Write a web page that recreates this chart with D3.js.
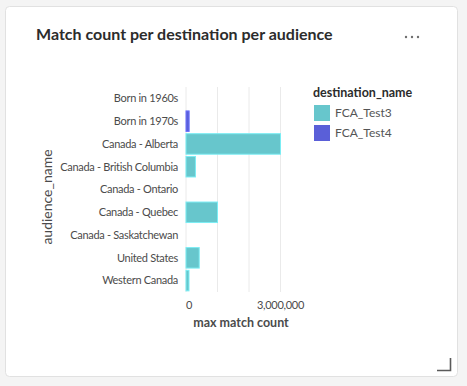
<!DOCTYPE html>
<html>
<head>
<meta charset="utf-8">
<script src="https://cdn.jsdelivr.net/npm/d3@7"></script>
<style>
  body { margin: 0; background: #f4f4f4; font-family: Lato, sans-serif; }
  svg { display: block; }
</style>
</head>
<body>
<svg id="chart" width="467" height="386"></svg>
<script>
// data
const audiences = [
  "Born in 1960s", "Born in 1970s", "Canada - Alberta", "Canada - British Columbia",
  "Canada - Ontario", "Canada - Quebec", "Canada - Saskatchewan", "United States", "Western Canada"
];
const destinations = ["FCA_Test3", "FCA_Test4"];
const destinationOfRow = [null, "FCA_Test4", "FCA_Test3", "FCA_Test3", null, "FCA_Test3", null, "FCA_Test3", "FCA_Test3"];
const matchCounts = [0, 100000, 3000000, 300000, 0, 1000000, 0, 420000, 95000];
const xTicks = [0, 1000000, 2000000, 3000000];
const xTickLabels = ["0", "", "", "3,000,000"];

const svg = d3.select("#chart");

// card
svg.append("rect")
  .attr("x", 5.5).attr("y", 6.5).attr("width", 452).attr("height", 370)
  .attr("rx", 4)
  .style("fill", "#fff")
  .style("stroke", "#e1e1e1");

svg.append("text")
  .attr("x", 36).attr("y", 40)
  .style("font-size", "16px").style("font-weight", "700")
  .style("fill", "#2c2c2c")
  .text("Match count per destination per audience");

// "..." menu
[406, 412, 418].forEach(cx => {
  svg.append("circle").attr("cx", cx).attr("cy", 37).attr("r", 1.2).style("fill", "#6e6e6e");
});

// resize handle
svg.append("path")
  .attr("d", "M437,370.5 H450.5 V358")
  .style("fill", "none").style("stroke", "#5a5a5a").style("stroke-width", 1.6);

const x = d3.scaleLinear().domain([0, 3000000]).range([186, 280.5]);
const y = d3.scaleBand().domain(audiences).range([87, 292]).paddingInner(0.1).paddingOuter(0.05);
const color = d3.scaleOrdinal().domain(destinations).range(["#67c6cc", "#5a5fd8"]);

// gridlines
svg.append("g").selectAll("line")
  .data(xTicks).enter().append("line")
  .attr("x1", d => x(d)).attr("x2", d => x(d))
  .attr("y1", 87).attr("y2", 292)
  .style("stroke", "#eaeaea").style("stroke-width", 1);

// bars
svg.append("g").selectAll("rect")
  .data(audiences.map((a, i) => ({ a, v: matchCounts[i], dest: destinationOfRow[i] })).filter(d => d.v > 0))
  .enter().append("rect")
  .attr("x", x(0))
  .attr("y", d => y(d.a))
  .attr("width", d => x(d.v) - x(0))
  .attr("height", y.bandwidth())
  .style("fill", d => color(d.dest))
  .style("stroke", d => d3.color(color(d.dest)).brighter(0.5))
  .style("stroke-width", 1);

// y axis labels
svg.append("g").selectAll("text")
  .data(audiences).enter().append("text")
  .attr("x", 178)
  .attr("y", d => y(d) + y.bandwidth() / 2)
  .attr("dy", "0.35em")
  .attr("text-anchor", "end")
  .style("font-size", "11px").style("letter-spacing", "-0.3px").style("fill", "#4b4b4b")
  .text(d => d);

// x axis labels
svg.append("g").selectAll("text")
  .data(xTicks).enter().append("text")
  .attr("x", (d, i) => x(d) + (i === 0 ? 3 : 0))
  .attr("y", 305)
  .attr("dy", "0.35em")
  .attr("text-anchor", "middle")
  .style("font-size", "11px").style("letter-spacing", "-0.3px").style("fill", "#4b4b4b")
  .text((d, i) => xTickLabels[i]);

svg.append("text")
  .attr("x", 241).attr("y", 327)
  .attr("text-anchor", "middle")
  .style("font-size", "12.5px").style("font-weight", "700").style("fill", "#4b4b4b")
  .text("max match count");

svg.append("text")
  .attr("transform", "translate(52,197) rotate(-90)")
  .attr("text-anchor", "middle")
  .style("font-size", "14px").style("fill", "#4b4b4b")
  .text("audience_name");

// legend
const legend = svg.append("g");
legend.append("text")
  .attr("x", 313).attr("y", 97)
  .style("font-size", "12.5px").style("font-weight", "700").style("fill", "#2c2c2c")
  .text("destination_name");
destinations.forEach((d, i) => {
  legend.append("rect")
    .attr("x", 314).attr("y", 105 + i * 20)
    .attr("width", 16).attr("height", 16)
    .style("fill", color(d));
  legend.append("text")
    .attr("x", 335).attr("y", 113 + i * 20)
    .attr("dy", "0.35em")
    .style("font-size", "12px").style("fill", "#555")
    .text(d);
});
</script>
</body>
</html>
